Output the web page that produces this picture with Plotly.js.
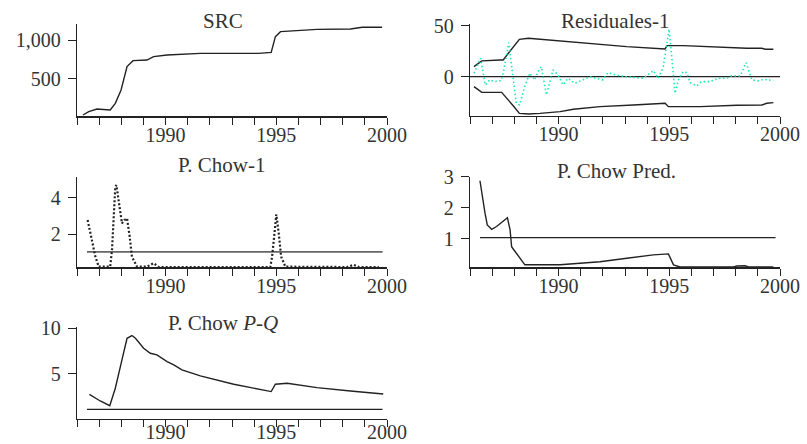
<!DOCTYPE html>
<html>
<head>
<meta charset="utf-8">
<script src="https://cdn.plot.ly/plotly-3.0.1.min.js"></script>
<style>html,body{margin:0;padding:0;background:#fff;}#chart{width:807px;height:444px;}</style>
</head>
<body>
<div id="chart"></div>
<script>
// ---- Data ----
const srcYears = [1986.27,1986.53,1986.9,1987.5,1987.73,1987.99,1988.26,1988.53,1989.16,1989.46,1990.07,1991.57,1993.08,1994.2,1994.77,1994.96,1995.19,1996.1,1996.84,1998.35,1998.88,1999.78];
const srcValues = [26,70,104,91,178,352,657,735,743,787,809,830,830,830,843,1048,1113,1126,1143,1148,1170,1170];

const bandUpYears = [1986.18,1986.53,1987.36,1987.5,1987.73,1987.96,1988.23,1988.64,1989.16,1989.6,1990.67,1991.57,1993.08,1994.81,1994.9,1995.64,1997.14,1998.5,1999.18,1999.33,1999.7];
const bandUpValues = [9.8,15.4,16.3,16.3,22.9,29.4,36.6,37.6,36.6,35.9,33.7,31.7,29.4,27.1,30.4,30.4,28.8,27.8,27.8,26.8,26.8];
const bandLoYears = [1986.18,1986.53,1987.43,1987.66,1987.96,1988.23,1988.64,1989.16,1990.07,1990.67,1991.87,1993.38,1994.81,1994.96,1996.4,1998.05,1999.18,1999.4,1999.7];
const bandLoValues = [-9.8,-15.4,-15.4,-21,-28.8,-36,-36.6,-36,-34.3,-32,-29.4,-27.8,-26.1,-29.4,-29.4,-28.1,-27.8,-26.1,-25.5];

const resYears = [1986.18,1986.48,1986.69,1986.89,1987.11,1987.41,1987.53,1987.75,1987.9,1988.09,1988.24,1988.47,1988.7,1988.92,1989.07,1989.22,1989.45,1989.75,1989.97,1990.2,1990.43,1990.73,1991.1,1991.4,1991.7,1992.0,1992.23,1992.6,1993.0,1993.3,1993.83,1994.28,1994.5,1994.73,1994.88,1994.99,1995.11,1995.26,1995.41,1995.63,1995.79,1995.94,1996.24,1996.46,1996.84,1997.21,1997.59,1997.82,1998.2,1998.47,1998.73,1999.02,1999.25,1999.7];
const resValues = [3.3,18,-8.1,-3.2,-4.9,-3.9,6.6,33.3,6.6,-26,-27.7,-9.8,3.3,-3.2,4.9,9.8,-17.9,6.6,1.7,-8.1,-1.6,-6.5,-3.2,0,-1.6,-3.2,3.9,1.6,0,-0.6,-1.6,5.9,-1.6,9.8,29.4,46.5,19.6,-16.3,-3.2,4.9,3.9,-5.9,-9.1,-4.9,-4.9,-1.6,-1.6,0.7,0.7,13.7,-3.2,-4.2,-2.6,-3.9];

const chow1Years = [1986.48,1986.68,1986.83,1986.98,1987.5,1987.58,1987.65,1987.73,1987.78,1987.88,1988.03,1988.14,1988.26,1988.38,1988.48,1988.71,1989.16,1989.46,1989.69,1994.73,1994.81,1994.92,1995.0,1995.11,1995.22,1995.41,1998.2,1998.5,1998.73,1999.63];
const chow1Values = [2.77,1.49,0.75,0.2,0.2,1.12,2.95,4.6,4.7,3.87,2.59,2.77,2.86,1.85,0.75,0.2,0.2,0.39,0.18,0.18,0.75,2.04,3.08,2.04,0.75,0.2,0.18,0.3,0.18,0.18];
const chow1Crit = 1.02;

const predYears = [1986.45,1986.57,1986.68,1986.78,1986.98,1987.2,1987.5,1987.69,1987.81,1987.88,1987.96,1988.48,1990.07,1991.05,1991.87,1993.08,1994.28,1994.96,1995.19,1995.49,1997.9,1998.05,1998.42,1998.58,1999.7];
const predValues = [2.87,2.25,1.82,1.45,1.31,1.4,1.56,1.68,1.29,0.75,0.67,0.17,0.17,0.22,0.27,0.38,0.49,0.52,0.17,0.1,0.1,0.13,0.14,0.1,0.1];
const predCrit = 1.04;

const pqYears = [1986.56,1987.05,1987.48,1987.73,1988.03,1988.26,1988.48,1988.64,1989.01,1989.31,1989.61,1990.07,1990.37,1990.74,1991.57,1993.08,1994.77,1994.96,1995.49,1996.84,1998.35,1999.83];
const pqValues = [2.77,2.04,1.53,3.43,6.53,8.9,9.2,8.9,7.81,7.26,7.08,6.35,5.99,5.44,4.78,3.87,3.07,3.87,3.98,3.5,3.14,2.81];
const pqCrit = 1.13;

const refStart = 1986.45, refEnd = 1999.8;
const yearTicks = [1986,1987,1988,1989,1990,1991,1992,1993,1994,1995,1996,1997,1998,1999,2000];
const yearTickText = yearTicks.map(y => (y % 5 === 0 ? String(y) : ''));

const titles = ['SRC', 'Residuales-1', 'P. Chow-1', 'P. Chow Pred.', 'P. Chow <i>P-Q</i>'];

// ---- Layout helpers ----
const W = 807, H = 444;
const FONT = 'Liberation Serif, Times New Roman, serif';
const px = v => v / W, py = v => 1 - v / H;
const black = '#222';

function xax(dom, anchor, standoff) {
  return {domain: dom, anchor: anchor, range: [1986, 2000], showline: true, linecolor: black, linewidth: 1.3,
    ticks: 'outside', ticklen: 7, tickwidth: 1, tickcolor: black, tickvals: yearTicks, ticktext: yearTickText,
    ticklabelstandoff: standoff,
    showgrid: false, zeroline: false, tickfont: {family: FONT, size: 20, color: '#333'}, fixedrange: true};
}
function yax(dom, anchor, range, tv, tt) {
  return {domain: dom, anchor: anchor, range: range, showline: true, linecolor: black, linewidth: 1.3,
    ticks: 'outside', ticklen: 8, tickwidth: 1, tickcolor: black, tickvals: tv, ticktext: tt,
    ticklabelstandoff: 3,
    showgrid: false, zeroline: false, tickfont: {family: FONT, size: 20, color: '#333'}, fixedrange: true};
}
const L = [px(77), px(387)], R = [px(470), px(780)];

const line = (x, y, xa, ya, extra) => Object.assign({x: x, y: y, xaxis: xa, yaxis: ya, mode: 'lines',
  line: {color: black, width: 1.4}, hoverinfo: 'skip', showlegend: false}, extra || {});

const traces = [
  line(srcYears, srcValues, 'x', 'y'),
  line([1986, 2000], [0, 0], 'x2', 'y2', {line: {color: black, width: 1.3}}),
  line(bandUpYears, bandUpValues, 'x2', 'y2'),
  line(bandLoYears, bandLoValues, 'x2', 'y2'),
  line(resYears, resValues, 'x2', 'y2', {line: {color: '#19e8b8', width: 1.6, dash: '1.5px,2.5px'}}),
  line([refStart, refEnd], [chow1Crit, chow1Crit], 'x3', 'y3', {line: {color: '#666', width: 1.8}}),
  line(chow1Years, chow1Values, 'x3', 'y3', {line: {color: '#222', width: 2.2, dash: '2px,2px'}}),
  line([refStart, refEnd], [predCrit, predCrit], 'x4', 'y4', {line: {color: black, width: 1.3}}),
  line(predYears, predValues, 'x4', 'y4'),
  line([refStart, refEnd], [pqCrit, pqCrit], 'x5', 'y5', {line: {color: black, width: 1.3}}),
  line(pqYears, pqValues, 'x5', 'y5')
];

const ann = (text, x, y) => ({text: text, x: px(x), y: py(y), xref: 'paper', yref: 'paper', showarrow: false,
  xanchor: 'center', yanchor: 'middle', font: {family: FONT, size: 21, color: '#333'}});

const layout = {
  width: W, height: H, margin: {l: 0, r: 0, t: 0, b: 0}, paper_bgcolor: '#fff', plot_bgcolor: '#fff',
  showlegend: false,
  xaxis: xax(L, 'y', -7),
  yaxis: yax([py(116.3), py(24)], 'x', [9, 1213], [500, 1000], ['500', '1,000']),
  xaxis2: xax(R, 'y2', -7),
  yaxis2: yax([py(116), py(24.3)], 'x2', [-38.6, 51.3], [0, 50], ['0', '50']),
  xaxis3: xax(L, 'y3', -7),
  yaxis3: yax([py(267.3), py(176.7)], 'x3', [0.165, 5.16], [2, 4], ['2', '4']),
  xaxis4: xax(R, 'y4', -7),
  yaxis4: yax([py(267.3), py(176.7)], 'x4', [0.09, 3.0], [1, 2, 3], ['1', '2', '3']),
  xaxis5: xax(L, 'y5', -12),
  yaxis5: yax([py(419), py(327.3)], 'x5', [0.07, 10.1], [5, 10], ['5', '10']),
  annotations: [
    ann(titles[0], 223, 21),
    ann(titles[1], 615, 21),
    ann(titles[2], 222, 165),
    ann(titles[3], 616, 171),
    ann(titles[4], 223, 323)
  ]
};

Plotly.newPlot('chart', traces, layout, {displayModeBar: false, staticPlot: true});
</script>
</body>
</html>
